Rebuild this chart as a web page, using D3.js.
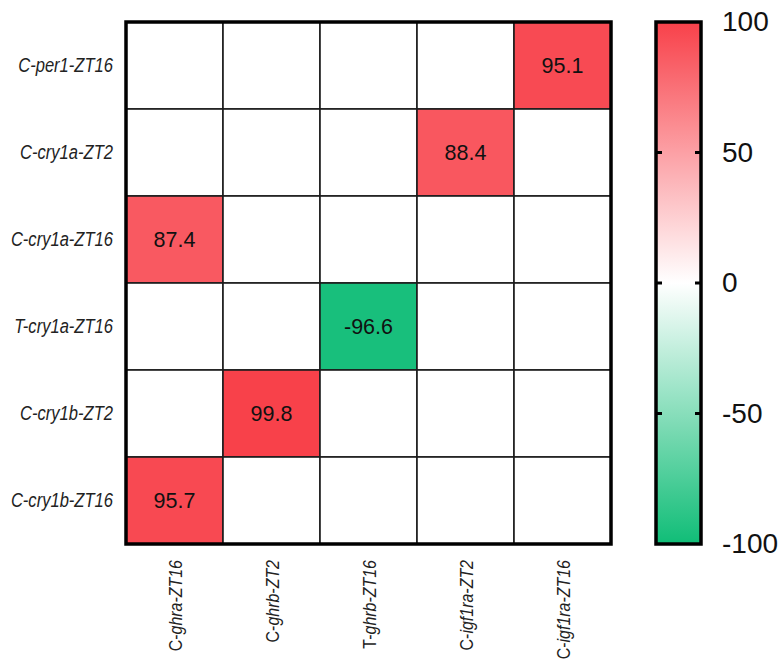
<!DOCTYPE html>
<html>
<head>
<meta charset="utf-8">
<script src="https://cdn.jsdelivr.net/npm/d3@7/dist/d3.min.js"></script>
<style>
  html, body { margin: 0; padding: 0; background: #ffffff; }
  svg { display: block; font-family: "Liberation Sans", Arial, sans-serif; }
</style>
</head>
<body>
<svg id="chart" width="783" height="662"></svg>
<script>
// Row and column gene/time labels
const rowLabels = ["C-per1-ZT16", "C-cry1a-ZT2", "C-cry1a-ZT16", "T-cry1a-ZT16", "C-cry1b-ZT2", "C-cry1b-ZT16"];
const colLabels = ["C-ghra-ZT16", "C-ghrb-ZT2", "T-ghrb-ZT16", "C-igf1ra-ZT2", "C-igf1ra-ZT16"];

// Correlation values, one row per rowLabels entry (null = not significant / blank)
const valuesPer1ZT16  = [null, null, null, null, 95.1];
const valuesCry1aZT2  = [null, null, null, 88.4, null];
const valuesCry1aZT16 = [87.4, null, null, null, null];
const valuesTCry1aZT16 = [null, null, -96.6, null, null];
const valuesCry1bZT2  = [null, 99.8, null, null, null];
const valuesCry1bZT16 = [95.7, null, null, null, null];
const valueRows = [valuesPer1ZT16, valuesCry1aZT2, valuesCry1aZT16, valuesTCry1aZT16, valuesCry1bZT2, valuesCry1bZT16];

// Colour scale legend ticks
const legendTicks = [-100, -50, 0, 50, 100];

const cells = [];
valueRows.forEach((vals, i) => vals.forEach((v, j) => cells.push({ row: rowLabels[i], col: colLabels[j], value: v })));

const svg = d3.select("#chart");
const plot = { left: 126, right: 611, top: 22, bottom: 544 };

const x = d3.scaleBand().domain(colLabels).range([plot.left, plot.right]);
const y = d3.scaleBand().domain(rowLabels).range([plot.top, plot.bottom]);

const RED = "#f8414a", WHITE = "#ffffff", GREEN = "#10bd77";
const color = d3.scaleLinear().domain([-100, 0, 100]).range([GREEN, WHITE, RED]);

// Cells
svg.append("g").selectAll("rect")
  .data(cells)
  .join("rect")
  .attr("x", d => x(d.col))
  .attr("y", d => y(d.row))
  .attr("width", x.bandwidth())
  .attr("height", y.bandwidth())
  .attr("fill", d => d.value == null ? WHITE : color(d.value))
  .attr("stroke", "#1c1c1c")
  .attr("stroke-width", 1.6);

// Value labels
svg.append("g").selectAll("text")
  .data(cells.filter(d => d.value != null))
  .join("text")
  .attr("x", d => x(d.col) + x.bandwidth() / 2)
  .attr("y", d => y(d.row) + y.bandwidth() / 2)
  .attr("dy", "0.37em")
  .attr("text-anchor", "middle")
  .attr("font-size", 21.5)
  .attr("fill", "#111")
  .text(d => d.value.toFixed(1));

// Outer frame
svg.append("rect")
  .attr("x", plot.left).attr("y", plot.top)
  .attr("width", plot.right - plot.left).attr("height", plot.bottom - plot.top)
  .attr("fill", "none").attr("stroke", "#000").attr("stroke-width", 3.5);

// Row axis
const yAxis = svg.append("g")
  .attr("transform", `translate(${plot.left},0)`)
  .call(d3.axisLeft(y).tickSize(0).tickPadding(0));
yAxis.select(".domain").remove();
yAxis.selectAll("text")
  .attr("x", 0).attr("dy", "0.35em")
  .attr("transform", "translate(-13,0) scale(0.85,1)")
  .attr("text-anchor", "end")
  .attr("font-size", 19.5)
  .attr("font-family", "'Liberation Sans', Arial, sans-serif")
  .attr("font-style", "italic")
  .attr("fill", "#222");

// Column axis, rotated labels (prefix upright, gene name italic)
const xAxis = svg.append("g")
  .attr("transform", `translate(0,${plot.bottom})`)
  .call(d3.axisBottom(x).tickSize(0).tickPadding(0));
xAxis.select(".domain").remove();
xAxis.selectAll("text")
  .attr("x", 0).attr("y", 0).attr("dy", 0)
  .attr("transform", "translate(7,16) rotate(-90) scale(0.84,1)")
  .attr("text-anchor", "end")
  .attr("font-size", 19)
  .attr("font-family", "'Liberation Sans', Arial, sans-serif")
  .attr("fill", "#222")
  .each(function (d) {
    const t = d3.select(this).text("");
    const idx = d.indexOf("-");
    t.append("tspan").text(d.slice(0, idx + 1));
    t.append("tspan").attr("font-style", "italic").text(d.slice(idx + 1));
  });

// Colour legend
const bar = { x: 656, width: 45 };
const cy = d3.scaleLinear().domain([-100, 100]).range([plot.bottom, plot.top]);

const grad = svg.append("defs").append("linearGradient")
  .attr("id", "legendGrad")
  .attr("x1", 0).attr("y1", 1).attr("x2", 0).attr("y2", 0);
d3.range(0, 1.0001, 0.05).forEach(t => {
  const v = -100 + 200 * t;
  grad.append("stop").attr("offset", t).attr("stop-color", color(v));
});

svg.append("rect")
  .attr("x", bar.x).attr("y", cy(100))
  .attr("width", bar.width).attr("height", cy(-100) - cy(100))
  .attr("fill", "url(#legendGrad)")
  .attr("stroke", "#000").attr("stroke-width", 3.5);

// Inward tick marks on both sides of the legend bar
const inner = legendTicks.filter(v => v > -100 && v < 100);
svg.append("g").selectAll("path")
  .data(inner)
  .join("path")
  .attr("d", v => `M${bar.x},${cy(v)}h6M${bar.x + bar.width},${cy(v)}h-6`)
  .attr("stroke", "#000").attr("stroke-width", 3);

const legendAxis = svg.append("g")
  .attr("transform", `translate(${bar.x + bar.width},0)`)
  .call(d3.axisRight(cy).tickValues(legendTicks).tickSize(0).tickPadding(21).tickFormat(d => String(d)));
legendAxis.select(".domain").remove();
legendAxis.selectAll("text")
  .attr("font-size", 28)
  .attr("font-family", "'Liberation Sans', Arial, sans-serif")
  .attr("fill", "#111");
</script>
</body>
</html>
